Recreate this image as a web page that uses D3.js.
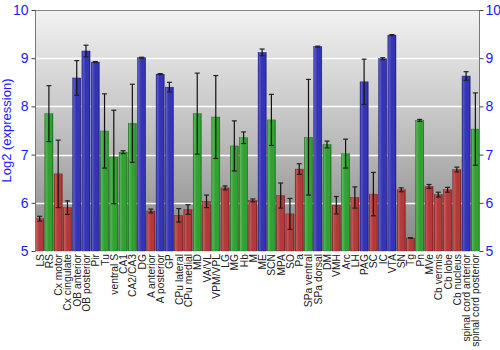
<!DOCTYPE html>
<html>
<head>
<meta charset="utf-8">
<script src="https://cdn.jsdelivr.net/npm/d3@7"></script>
<style>
  html, body { margin: 0; padding: 0; background: #fff; }
  svg { display: block; font-family: "Liberation Sans", Arial, sans-serif; }
</style>
</head>
<body>
<svg id="chart" width="500" height="350"></svg>
<script>
// Brain regions along the x axis
const regions = ["LS", "RS", "Cx motor", "Cx cingulate", "OB anterior", "OB posterior", "Pir", "Tu",
  "ventral S", "CA1", "CA2/CA3", "DG", "A anterior", "A posterior", "GP", "CPu lateral", "CPu medial",
  "MD", "VA/VL", "VPM/VPL", "LG", "MG", "Hb", "M", "ME", "SCN", "MPA", "SO", "Pa", "SPa ventral",
  "SPa dorsal", "DM", "VMH", "Arc", "LH", "PAG", "SC", "IC", "VTA", "SN", "Tg", "Pn", "MVe",
  "Cb vermis", "Cb lobe", "Cb nucleus", "spinal cord anterior", "spinal cord posterior"];

// Mean log2 expression per region
const expression = [5.67, 7.85, 6.60, 5.90, 8.59, 9.15, 8.92, 7.49,
  6.95, 7.05, 7.65, 9.01, 5.83, 8.67, 8.40, 5.74, 5.86,
  7.85, 6.03, 7.78, 6.31, 7.18, 7.35, 6.05, 9.12, 7.72, 6.15, 5.77, 6.70, 7.36,
  9.24, 7.21, 5.95, 7.02, 6.11, 8.51, 6.18, 8.99, 9.48, 6.27, 5.27, 7.71, 6.34,
  6.17, 6.27, 6.69, 8.63, 7.53];

// Half-length of the error bar (standard deviation)
const deviation = [0.05, 0.58, 0.70, 0.14, 0.36, 0.12, 0.01, 0.77,
  0.97, 0.03, 0.81, 0.01, 0.04, 0.01, 0.10, 0.14, 0.10,
  0.84, 0.13, 0.86, 0.04, 0.52, 0.12, 0.03, 0.07, 0.53, 0.26, 0.32, 0.11, 1.20,
  0.01, 0.07, 0.18, 0.30, 0.22, 0.47, 0.45, 0.02, 0.01, 0.04, 0.005, 0.02, 0.04,
  0.05, 0.05, 0.05, 0.09, 0.75];

// Expression level class of each region: low / mid / high
const level = ["low", "mid", "low", "low", "high", "high", "high", "mid",
  "mid", "mid", "mid", "high", "low", "high", "high", "low", "low",
  "mid", "low", "mid", "low", "mid", "mid", "low", "high", "mid", "low", "low", "low", "mid",
  "high", "mid", "low", "mid", "low", "high", "low", "high", "high", "low", "low", "mid", "low",
  "low", "low", "low", "high", "mid"];

const yTicks = [5, 6, 7, 8, 9, 10];
const gridValues = [6, 7, 8, 9];

const palette = {
  low:  { dark: "#7a1c1c", mid: "#b23a3a", light: "#c85a5a" },
  mid:  { dark: "#1c6e1c", mid: "#33a033", light: "#55b855" },
  high: { dark: "#1c1c80", mid: "#3434b4", light: "#5a5ac8" }
};

const svg = d3.select("#chart");
const margin = { left: 35, right: 20, top: 10, bottom: 99 };
const W = 500, H = 350;
const x0 = margin.left, x1 = W - margin.right;
const y0 = H - margin.bottom, y1 = margin.top;

const x = d3.scaleBand().domain(regions).range([x0, x1]).paddingInner(0.12).paddingOuter(0.06);
const y = d3.scaleLinear().domain([5, 10]).range([y0, y1]);

const defs = svg.append("defs");
const bg = defs.append("linearGradient").attr("id", "plotBg")
  .attr("x1", 0).attr("y1", 0).attr("x2", 0).attr("y2", 1);
bg.append("stop").attr("offset", 0).attr("stop-color", "#f2f2f2");
bg.append("stop").attr("offset", 0.5).attr("stop-color", "#c0c0c0");
bg.append("stop").attr("offset", 1).attr("stop-color", "#858585");

Object.entries(palette).forEach(([k, c]) => {
  const g = defs.append("linearGradient").attr("id", "bar-" + k)
    .attr("x1", 0).attr("y1", 0).attr("x2", 1).attr("y2", 0);
  g.append("stop").attr("offset", 0).attr("stop-color", c.dark);
  g.append("stop").attr("offset", 0.12).attr("stop-color", c.light);
  g.append("stop").attr("offset", 0.45).attr("stop-color", c.mid);
  g.append("stop").attr("offset", 0.85).attr("stop-color", c.mid);
  g.append("stop").attr("offset", 1).attr("stop-color", c.dark);
});

// plot background
svg.append("rect").attr("x", x0).attr("y", y1).attr("width", x1 - x0).attr("height", y0 - y1)
  .attr("fill", "url(#plotBg)");

// grid lines
svg.append("g").selectAll("line").data(gridValues).join("line")
  .attr("x1", x0).attr("x2", x1)
  .attr("y1", d => Math.round(y(d)) + 0.5).attr("y2", d => Math.round(y(d)) + 0.5)
  .attr("stroke", "#ffffff").attr("stroke-width", 1.5);

// top frame line
svg.append("line").attr("x1", x0).attr("x2", x1).attr("y1", y1 + 0.5).attr("y2", y1 + 0.5)
  .attr("stroke", "#888").attr("stroke-width", 1);

// bars
const data = regions.map((r, i) => ({ r, v: expression[i], sd: deviation[i], lv: level[i] }));
svg.append("g").selectAll("rect").data(data).join("rect")
  .attr("x", d => x(d.r)).attr("width", x.bandwidth())
  .attr("y", d => y(d.v)).attr("height", d => y(5) - y(d.v))
  .attr("fill", d => "url(#bar-" + d.lv + ")")
  .attr("stroke", d => palette[d.lv].dark).attr("stroke-width", 0.4);

// error bars
const eb = svg.append("g").selectAll("g").data(data).join("g")
  .attr("transform", d => `translate(${x(d.r) + x.bandwidth() / 2},0)`);
eb.append("line").attr("x1", 0).attr("x2", 0)
  .attr("y1", d => y(d.v + d.sd)).attr("y2", d => y(d.v - d.sd))
  .attr("stroke", "#111").attr("stroke-width", 1.2);
eb.selectAll("line.cap").data(d => [d.v + d.sd, d.v - d.sd]).join("line")
  .attr("class", "cap").attr("x1", -2.5).attr("x2", 2.5)
  .attr("y1", d => y(d)).attr("y2", d => y(d))
  .attr("stroke", "#222").attr("stroke-width", 1.2);

// left axis
const leftAxis = svg.append("g").attr("transform", `translate(${x0 + 0.5},0)`)
  .call(d3.axisLeft(y).tickValues(yTicks).tickSize(4).tickPadding(3).tickFormat(d3.format("d")));
leftAxis.select(".domain").attr("stroke", "#777").attr("d", `M0,${y1}V${y0}`);
leftAxis.selectAll(".tick line").attr("stroke", "#444");
leftAxis.selectAll("text").attr("fill", "#1a1aff").attr("font-size", 14)
  .attr("font-family", "Liberation Sans, Arial, sans-serif");

// right axis
const rightAxis = svg.append("g").attr("transform", `translate(${x1 - 0.5},0)`)
  .call(d3.axisRight(y).tickValues(yTicks).tickSize(4).tickPadding(2).tickFormat(d3.format("d")));
rightAxis.select(".domain").attr("stroke", "#777").attr("d", `M0,${y1}V${y0}`);
rightAxis.selectAll(".tick line").attr("stroke", "#444");
rightAxis.selectAll("text").attr("fill", "#1a1aff").attr("font-size", 14)
  .attr("font-family", "Liberation Sans, Arial, sans-serif");

// axis title
svg.append("text").attr("transform", `translate(11,${(y0 + y1) / 2}) rotate(-90)`)
  .attr("text-anchor", "middle").attr("font-size", 13).attr("fill", "#1a1aff")
  .text("Log2 (expression)");

// region labels
svg.append("g").selectAll("text").data(regions).join("text")
  .attr("transform", d => `translate(${x(d) + x.bandwidth() / 2 + 4},${y0 + 3}) rotate(-90)`)
  .attr("text-anchor", "end").attr("font-size", 10.3).attr("fill", "#222")
  .text(d => d);
</script>
</body>
</html>
